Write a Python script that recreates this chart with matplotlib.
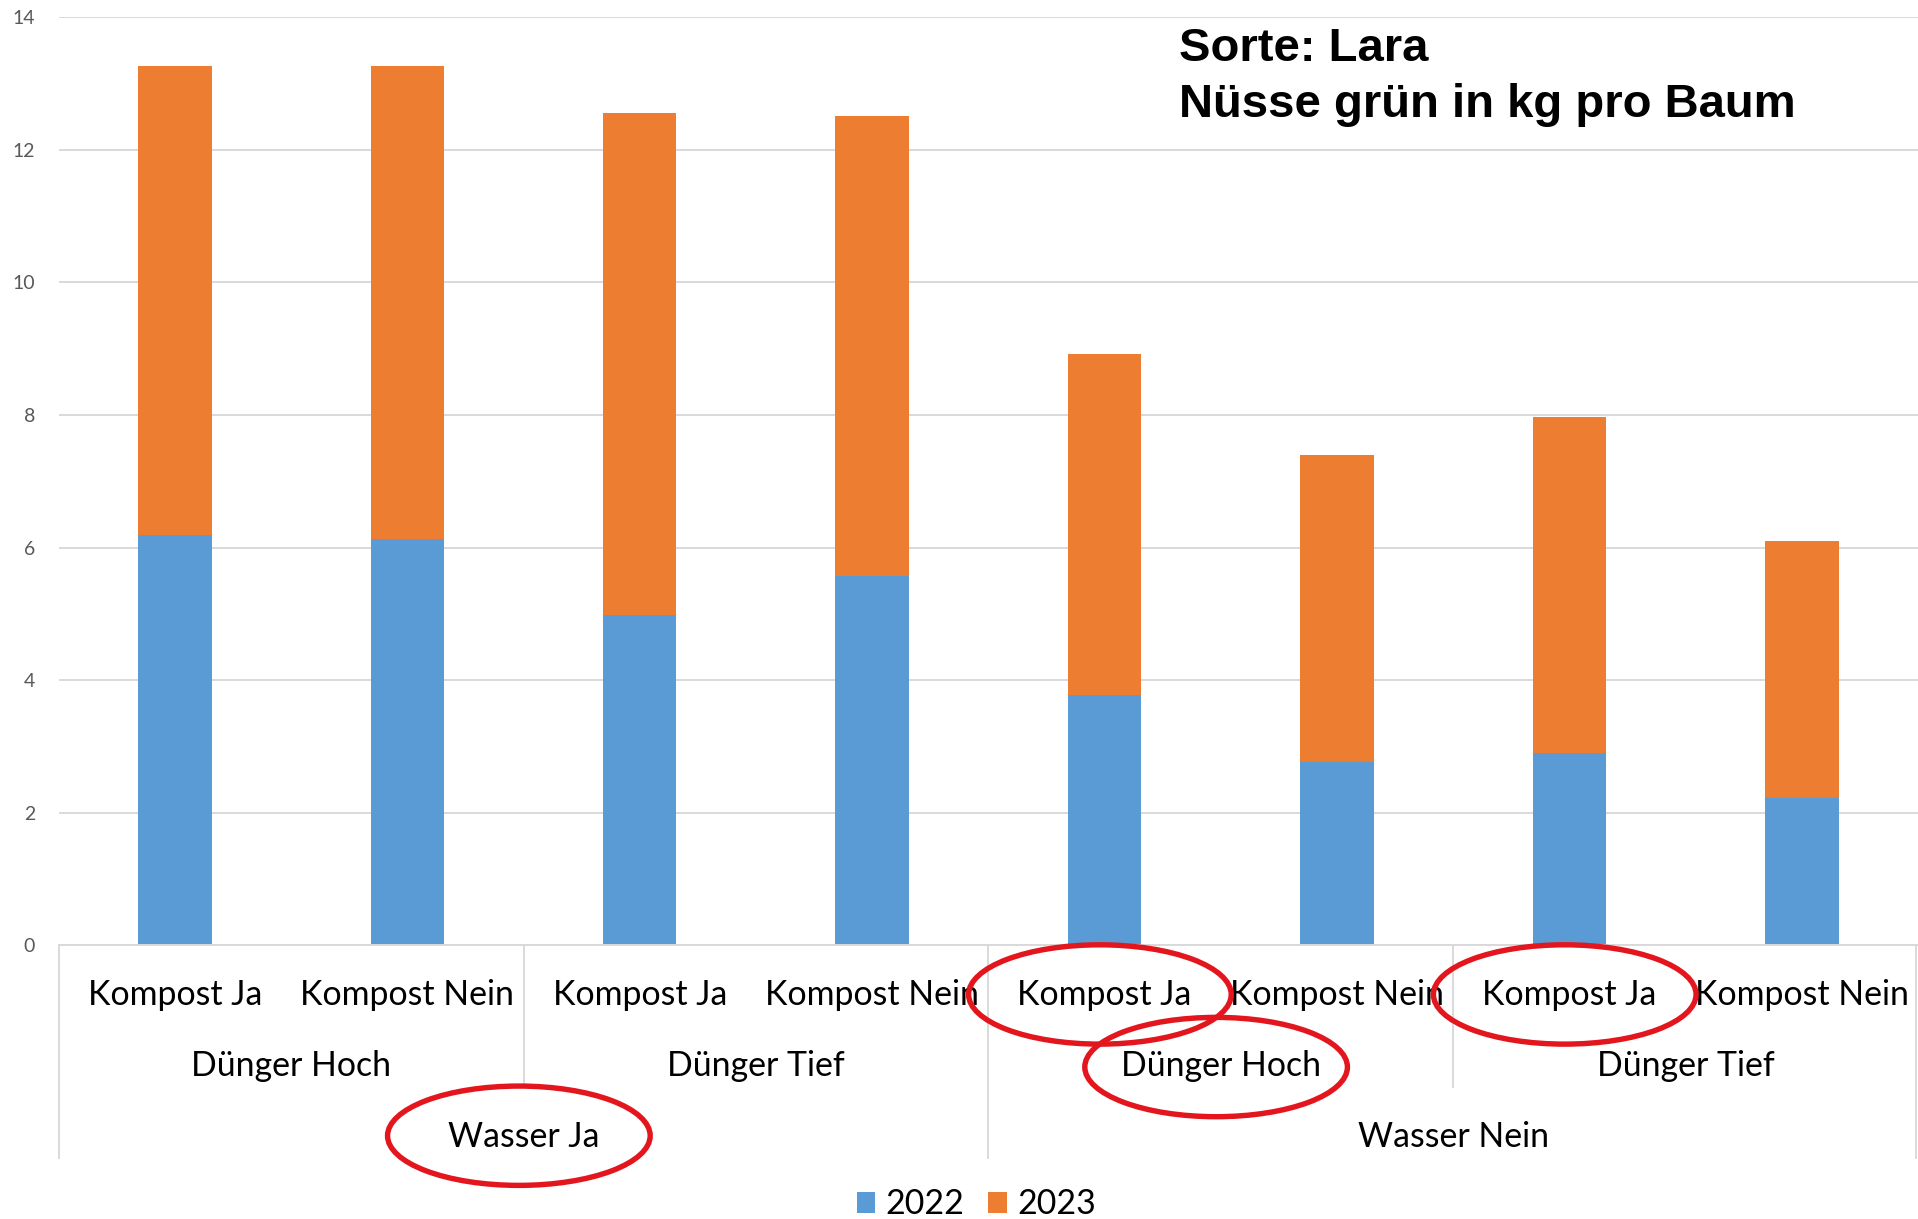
import matplotlib.pyplot as plt
import matplotlib.transforms as mtransforms
from matplotlib.patches import Ellipse, Patch
import numpy as np

# Daten (kg gruene Nuesse pro Baum, Sorte Lara)
kompost = ["Kompost Ja", "Kompost Nein"] * 4
duenger = ["Dünger Hoch", "Dünger Tief", "Dünger Hoch", "Dünger Tief"]
wasser = ["Wasser Ja", "Wasser Nein"]
v2022 = [6.19, 6.13, 4.98, 5.57, 3.78, 2.77, 2.91, 2.22]
v2023 = [7.07, 7.14, 7.58, 6.94, 5.14, 4.63, 5.06, 3.88]
years = ["2022", "2023"]
colors = ["#5B9BD5", "#ED7D31"]
title_lines = ["Sorte: Lara", "Nüsse grün in kg pro Baum"]
yticks = [0, 2, 4, 6, 8, 10, 12, 14]
# rot markierte Beschriftungen: (ebene, index)
marked = [(0, 4), (1, 2), (0, 6), (2, 0)]

grid_c = "#D9D9D9"
red = "#E3161E"
lab_font = "Lato"
lab_size = 24.4

fig = plt.figure(figsize=(19.18, 12.19), dpi=100)
ax = fig.add_axes([0.0306, 0.2244, 0.9694, 0.7614])

x = np.arange(len(kompost))
w = 0.316
ax.bar(x, v2022, w, color=colors[0], zorder=2)
ax.bar(x, v2023, w, bottom=v2022, color=colors[1], zorder=2)

ax.set_xlim(-0.5, len(kompost) - 0.5)
ax.set_ylim(0, 14)
ax.set_yticks(yticks)
ax.set_yticklabels([str(t) for t in yticks], color="#595959", fontsize=14, family=lab_font)
ax.tick_params(axis="y", length=0, pad=17)
ax.set_xticks([])
ax.yaxis.grid(True, color=grid_c, lw=1.4, zorder=0)
for s in ["top", "right", "left"]:
    ax.spines[s].set_visible(False)
ax.spines["bottom"].set_color(grid_c)
ax.spines["bottom"].set_linewidth(1.4)

# mehrstufige Achsenbeschriftung
trans = mtransforms.blended_transform_factory(ax.transData, ax.transAxes)
levels = [
    (kompost, 1, -0.0641),
    (duenger, 2, -0.1402),
    (wasser, 4, -0.2174),
]
centers = {}
for li, (labels, span, yb) in enumerate(levels):
    for i, lab in enumerate(labels):
        cx = i * span + (span - 1) / 2
        ax.text(cx, yb, lab, transform=trans, ha="center", va="baseline",
                fontsize=lab_size, family=lab_font, color="black", clip_on=False)
        centers[(li, i)] = cx

# Trennlinien
for xs in [1.5, 5.5]:
    ax.plot([xs, xs], [0, -0.1524], transform=trans, color=grid_c, lw=1.4, clip_on=False)
for xs in [-0.5, 3.5, 7.49]:
    ax.plot([xs, xs], [0, -0.2289], transform=trans, color=grid_c, lw=1.4, clip_on=False)

# rote Ellipsen (nachtraegliche Markierung)
level_mid = [-0.0528, -0.131, -0.205]
for li, i in marked:
    e = Ellipse((centers[(li, i)] - 0.02, level_mid[li]), 1.13, 0.107,
                transform=trans, fill=False, edgecolor=red, lw=3.9, clip_on=False, zorder=5)
    ax.add_patch(e)

# Titel
for k, line in enumerate(title_lines):
    fig.text(0.6147, 0.95 - k * 0.046, line, fontsize=34, fontweight="bold",
             family="Liberation Sans", va="baseline", ha="left")

handles = [Patch(facecolor=c, edgecolor="none") for c in colors]
fig.legend(handles, years, loc="center", bbox_to_anchor=(0.509, 0.012), ncol=2,
           frameon=False, prop={"family": lab_font, "size": lab_size},
           handlelength=0.55, handleheight=0.6, handletextpad=0.3, columnspacing=0.7)

fig.savefig("out.png", dpi=100, facecolor="white")
